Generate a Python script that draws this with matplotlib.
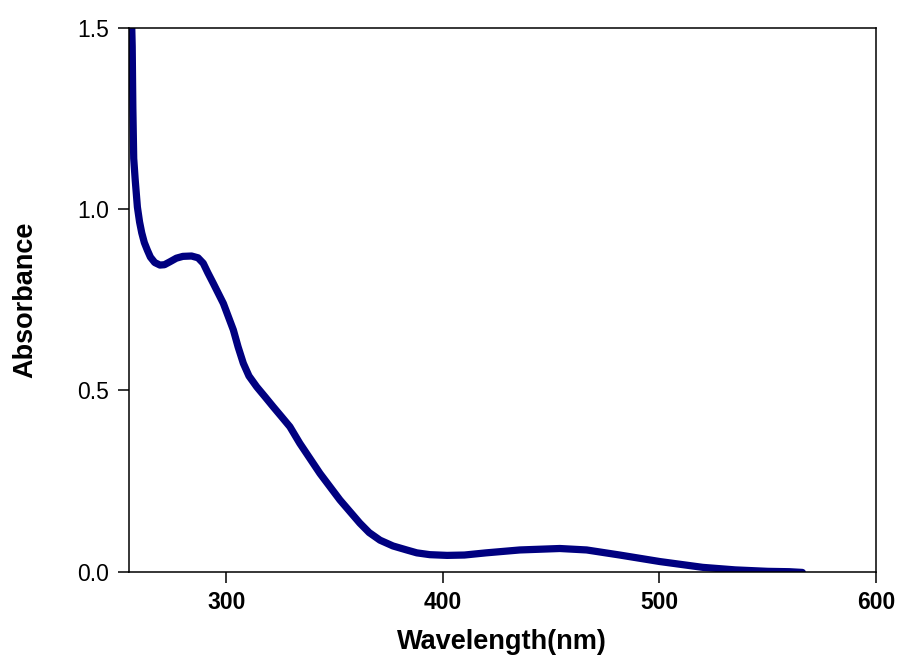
import numpy as np
import matplotlib
matplotlib.use("Agg")
import matplotlib.pyplot as plt

# UV-vis spectrum
wavelength = [256.0, 256.6, 256.9, 257.3, 258.0, 259.0, 260.0, 261.0, 262.2, 263.6,
              265.0, 267.0, 269.4, 271.5, 274.0, 277.0, 280.0, 284.0, 287.0, 289.4,
              291.5, 294.0, 298.7, 303.3, 305.5, 307.9, 310.5, 314.1, 318.0, 321.7,
              325.5, 329.4, 334.0, 343.3, 352.5, 361.7, 366.0, 371.0, 377.0, 383.3,
              388.0, 394.0, 402.0, 410.0, 420.0, 435.6, 454.0, 466.4, 481.7, 500.2,
              520.0, 535.0, 550.0, 560.0, 566.0]
absorbance = [1.60, 1.45, 1.28, 1.14, 1.08, 1.006, 0.965, 0.935, 0.908, 0.887,
              0.868, 0.853, 0.846, 0.847, 0.855, 0.865, 0.870, 0.871, 0.866, 0.851,
              0.825, 0.796, 0.740, 0.667, 0.620, 0.575, 0.540, 0.510, 0.482, 0.455,
              0.428, 0.400, 0.354, 0.271, 0.198, 0.134, 0.108, 0.087, 0.071, 0.060,
              0.052, 0.047, 0.045, 0.046, 0.052, 0.060, 0.064, 0.060, 0.046, 0.028,
              0.012, 0.005, 0.001, 0.0, -0.002]

x_ticks = [300, 400, 500, 600]
y_ticks = [0.0, 0.5, 1.0, 1.5]

plt.rcParams['font.family'] = ['Liberation Sans', 'DejaVu Sans']

fig = plt.figure(figsize=(8.99, 6.61), dpi=100)
ax = fig.add_axes([0.1432, 0.1351, 0.8312, 0.8225])

ax.plot(wavelength, absorbance, color='#000080', lw=5.2,
        solid_joinstyle='round', solid_capstyle='round')

ax.set_xlim(255, 600)
ax.set_ylim(0, 1.5)
ax.set_xticks(x_ticks)
ax.set_yticks(y_ticks)
ax.set_yticklabels(["%.1f" % v for v in y_ticks])

for sp in ax.spines.values():
    sp.set_linewidth(1.1)
ax.tick_params(direction='out', length=8, width=1.1)
ax.tick_params(axis='y', labelsize=16.5, pad=6)
ax.tick_params(axis='x', labelsize=16.5, pad=6)
for lab in ax.get_xticklabels():
    lab.set_fontweight('bold')

ax.set_xlabel("Wavelength(nm)", fontsize=19.5, fontweight='bold', labelpad=11)
ax.set_ylabel("Absorbance", fontsize=19.5, fontweight='bold', labelpad=28)

fig.savefig("out.png", dpi=100)
